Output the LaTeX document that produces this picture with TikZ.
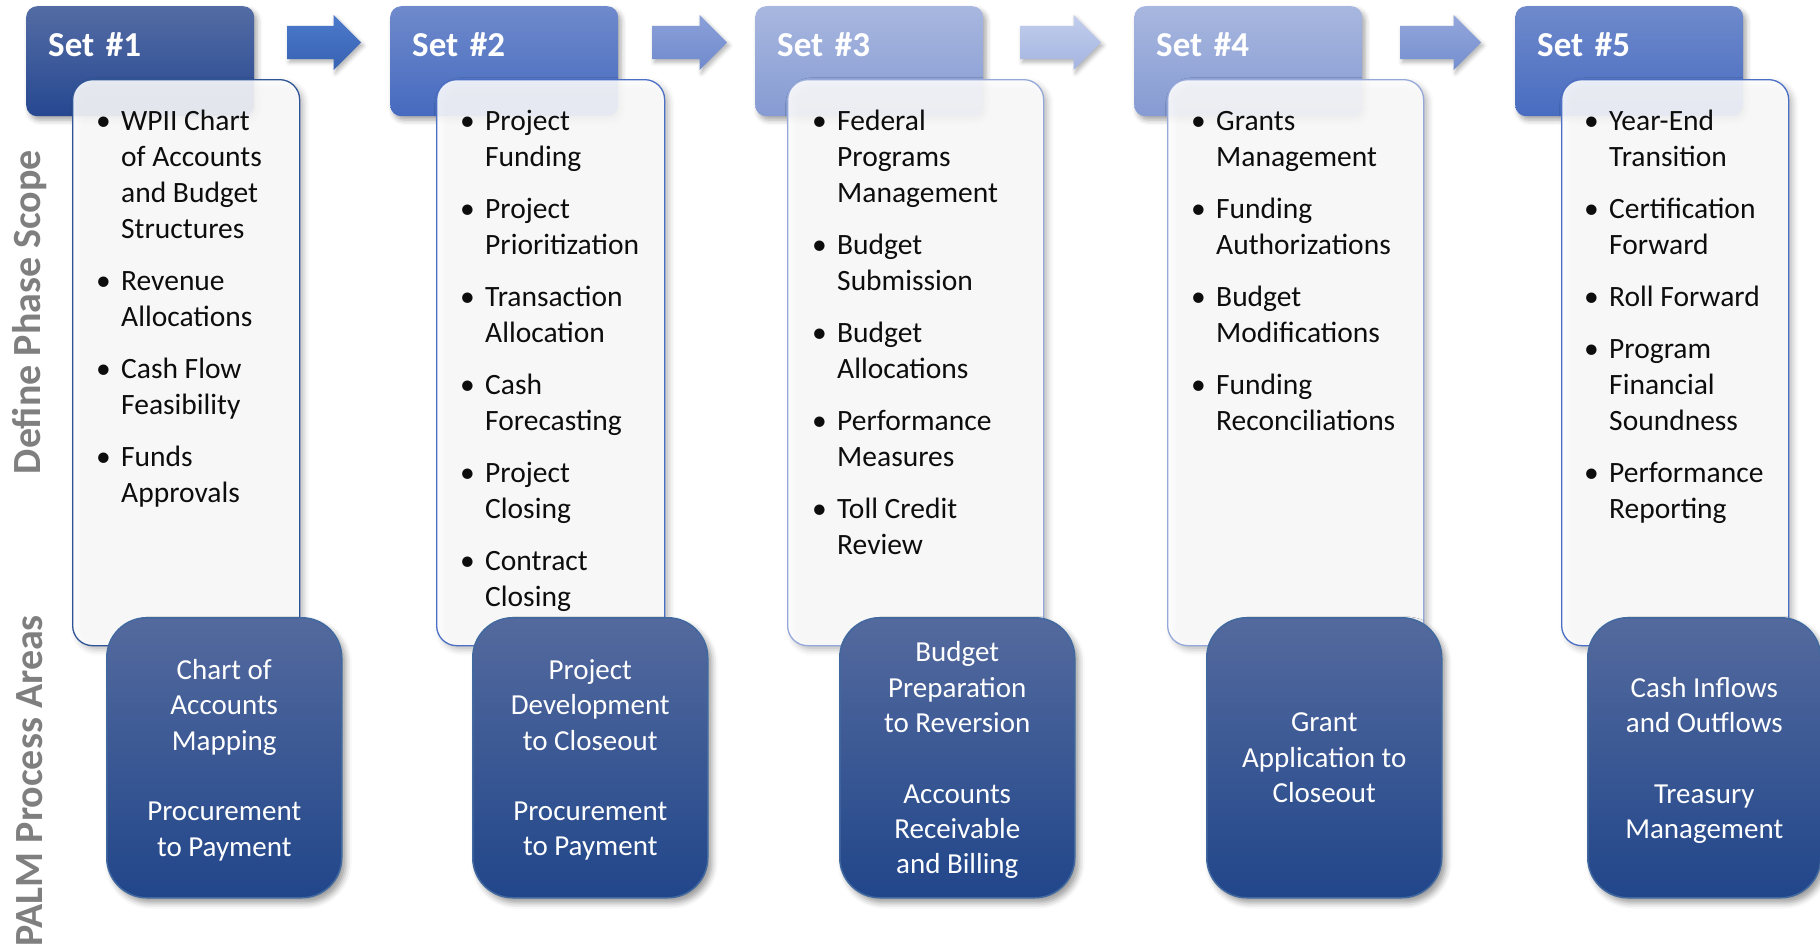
\documentclass[tikz,border=0pt]{standalone}
\usepackage{fontspec}
\setmainfont{Carlito}
\usetikzlibrary{positioning,shapes.arrows,shadows.blur}

\definecolor{hdAtop}{RGB}{84,108,164}
\definecolor{hdAbot}{RGB}{38,72,145}
\definecolor{hdBtop}{RGB}{111,138,204}
\definecolor{hdBbot}{RGB}{70,106,191}
\definecolor{hdCtop}{RGB}{168,183,223}
\definecolor{hdCbot}{RGB}{134,155,211}
\definecolor{hdEtop}{RGB}{111,138,204}
\definecolor{hdEbot}{RGB}{72,108,192}
\definecolor{arAtop}{RGB}{76,122,204}
\definecolor{arAbot}{RGB}{56,98,178}
\definecolor{arBtop}{RGB}{138,160,216}
\definecolor{arBbot}{RGB}{112,138,205}
\definecolor{arCtop}{RGB}{194,206,237}
\definecolor{arCbot}{RGB}{163,180,224}
\definecolor{arDtop}{RGB}{148,167,219}
\definecolor{arDbot}{RGB}{116,142,207}
\definecolor{procTop}{RGB}{84,106,158}
\definecolor{procBot}{RGB}{33,70,138}
\definecolor{procLine}{RGB}{65,105,160}
\definecolor{lineDark}{RGB}{47,85,151}
\definecolor{lineMid}{RGB}{74,111,196}
\definecolor{lineLight}{RGB}{149,168,218}
\definecolor{labelgray}{RGB}{127,127,127}

\tikzset{
  sethead/.style={rounded corners=11pt, minimum width=228pt, minimum height=110pt,
    text width=184pt, inner xsep=22pt, inner ysep=0pt, text height=23pt, text depth=33pt,
    align=left, text=white, font=\bfseries\fontsize{35}{42}\selectfont, anchor=north west,
    blur shadow={shadow xshift=3pt, shadow yshift=-4pt, shadow blur radius=5pt, shadow opacity=35}},
  scopebox/.style={rounded corners=20pt, minimum height=566pt, fill=white, fill opacity=0.88,
    line width=1.3pt, anchor=north west,
    blur shadow={shadow xshift=4pt, shadow yshift=-4pt, shadow blur radius=6pt, shadow opacity=30}},
  bullets/.style={inner sep=0pt, text=black!95, font=\fontsize{29.5}{36}\selectfont},
  procbox/.style={rounded corners=40pt, minimum width=235pt, minimum height=280pt,
    top color=procTop, bottom color=procBot, draw=procLine, line width=1.5pt,
    text=white, align=center, font=\fontsize{29}{35.3}\selectfont, anchor=north west,
    text depth=0pt, blur shadow={shadow xshift=4pt, shadow yshift=-5pt, shadow blur radius=6pt, shadow opacity=40}},
  steparrow/.style={single arrow, single arrow head extend=11pt, single arrow tip angle=90,
    inner xsep=0pt, inner ysep=16.5pt, minimum width=55pt, anchor=tail,
    blur shadow={shadow xshift=2pt, shadow yshift=-3pt, shadow blur radius=4pt, shadow opacity=30}},
  sidelabel/.style={rotate=90, text=labelgray, font=\bfseries\fontsize{40}{48}\selectfont}
}

\begin{document}
\begin{tikzpicture}[x=1pt,y=1pt]
\useasboundingbox (0,0) rectangle (1820,-946);

% side titles
\node[sidelabel] (scope) at (30,-312) {Define Phase Scope};
\node[sidelabel] (palm) at (30,-781) {PALM Process Areas};

% arrows between the sets
\node[steparrow, minimum height=74pt, top color=arAtop, bottom color=arAbot] (arA) at (287,-42.5) {};
\node[steparrow, minimum height=75pt, top color=arBtop, bottom color=arBbot] (arB) at (652,-42.5) {};
\node[steparrow, minimum height=81pt, top color=arCtop, bottom color=arCbot] (arC) at (1020,-42.5) {};
\node[steparrow, minimum height=81pt, top color=arDtop, bottom color=arDbot] (arD) at (1400,-42.5) {};

% set headers
\node[sethead, top color=hdAtop, bottom color=hdAbot] (hd1) at (26,-6) {Set \#1};
\node[sethead, top color=hdBtop, bottom color=hdBbot] (hd2) at (390,-6) {Set \#2};
\node[sethead, top color=hdCtop, bottom color=hdCbot] (hd3) at (755,-6) {Set \#3};
\node[sethead, top color=hdCtop, bottom color=hdCbot] (hd4) at (1134,-6) {Set \#4};
\node[sethead, top color=hdEtop, bottom color=hdEbot] (hd5) at (1515,-6) {Set \#5};

% scope boxes
\node[scopebox, draw=lineDark, minimum width=227pt] (sc1) at (72,-79) {};
\node[scopebox, draw=lineMid, minimum width=228pt] (sc2) at (436,-79) {};
\node[scopebox, draw=lineLight, minimum width=256pt] (sc3) at (787,-79) {};
\node[scopebox, draw=lineLight, minimum width=256pt] (sc4) at (1167,-79) {};
\node[scopebox, draw=lineMid, minimum width=227pt] (sc5) at (1561,-79) {};

% scope items
\node[bullets, below right=25.8pt and 24pt of sc1.north west] (ls1) {%
\begin{tabular}{@{}p{25pt}@{}l@{}}
\textbullet & WPII Chart\\
 & of Accounts\\
 & and Budget\\
 & Structures\\[16pt]
\textbullet & Revenue\\
 & Allocations\\[16pt]
\textbullet & Cash Flow\\
 & Feasibility\\[16pt]
\textbullet & Funds\\
 & Approvals
\end{tabular}};
\node[bullets, below right=25.8pt and 24pt of sc2.north west] (ls2) {%
\begin{tabular}{@{}p{25pt}@{}l@{}}
\textbullet & Project\\
 & Funding\\[16pt]
\textbullet & Project\\
 & Prioritization\\[16pt]
\textbullet & Transaction\\
 & Allocation\\[16pt]
\textbullet & Cash\\
 & Forecasting\\[16pt]
\textbullet & Project\\
 & Closing\\[16pt]
\textbullet & Contract\\
 & Closing
\end{tabular}};
\node[bullets, below right=26.5pt and 25pt of sc3.north west] (ls3) {%
\begin{tabular}{@{}p{25pt}@{}l@{}}
\textbullet & Federal\\
 & Programs\\
 & Management\\[16pt]
\textbullet & Budget\\
 & Submission\\[16pt]
\textbullet & Budget\\
 & Allocations\\[16pt]
\textbullet & Performance\\
 & Measures\\[16pt]
\textbullet & Toll Credit\\
 & Review
\end{tabular}};
\node[bullets, below right=26.5pt and 24pt of sc4.north west] (ls4) {%
\begin{tabular}{@{}p{25pt}@{}l@{}}
\textbullet & Grants\\
 & Management\\[16pt]
\textbullet & Funding\\
 & Authorizations\\[16pt]
\textbullet & Budget\\
 & Modifications\\[16pt]
\textbullet & Funding\\
 & Reconciliations
\end{tabular}};
\node[bullets, below right=25.8pt and 23pt of sc5.north west] (ls5) {%
\begin{tabular}{@{}p{25pt}@{}l@{}}
\textbullet & Year-End\\
 & Transition\\[16pt]
\textbullet & Certification\\
 & Forward\\[16pt]
\textbullet & Roll Forward\\[16pt]
\textbullet & Program\\
 & Financial\\
 & Soundness\\[16pt]
\textbullet & Performance\\
 & Reporting
\end{tabular}};

% PALM process areas
\node[procbox] (pa1) at (106,-617) {Chart of\\Accounts\\Mapping\\~\\Procurement\\to Payment};
\node[procbox] (pa2) at (472,-617) {Project\\Development\\to Closeout\\~\\Procurement\\to Payment};
\node[procbox] (pa3) at (839,-617) {Budget\\Preparation\\to Reversion\\~\\Accounts\\Receivable\\and Billing};
\node[procbox] (pa4) at (1206,-617) {Grant\\Application to\\Closeout};
\node[procbox, minimum width=233pt] (pa5) at (1587,-617) {Cash Inflows\\and Outflows\\~\\Treasury\\Management};
\end{tikzpicture}
\end{document}
